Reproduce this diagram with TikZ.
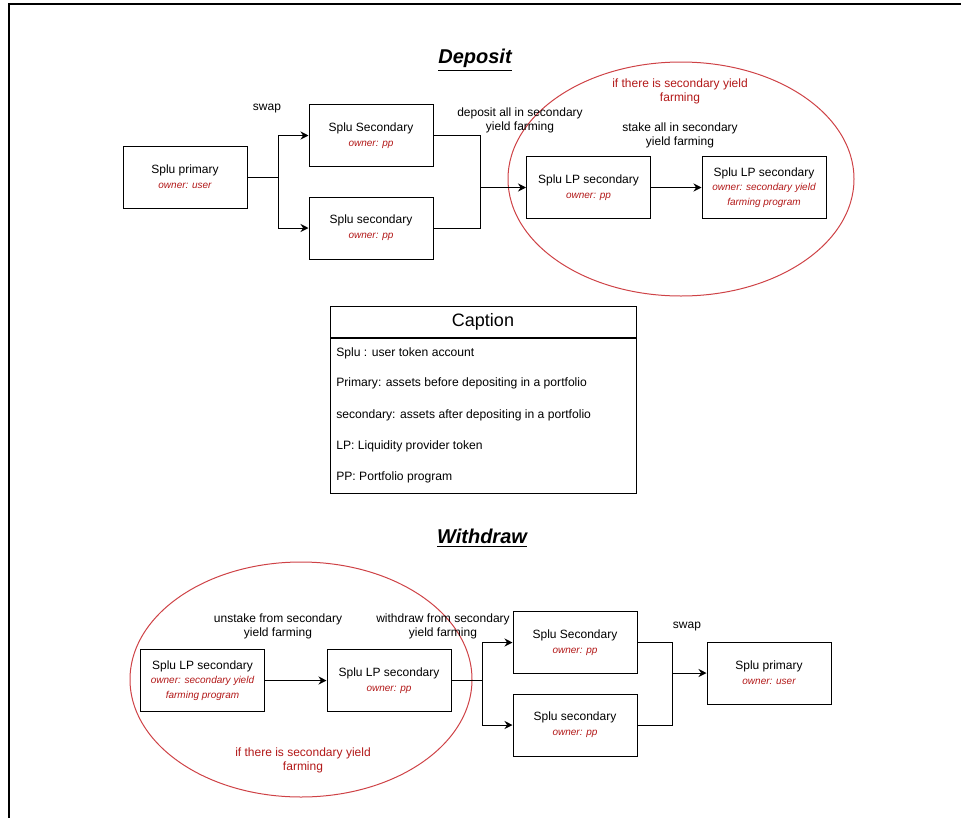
\documentclass[tikz,border=0pt]{standalone}
\usepackage{fontspec}
\setmainfont{Liberation Sans}
\usetikzlibrary{arrows.meta,shapes}
\tikzset{>={Stealth[width=6pt,length=6pt]}}
\definecolor{ownred}{RGB}{178,24,24}
\definecolor{ringred}{RGB}{206,66,70}
\tikzset{
  acct/.style={draw, line width=0.75pt, minimum width=93pt, minimum height=46.5pt,
    align=center, inner sep=2pt, font=\fontsize{9}{11}\selectfont},
  ring/.style={draw=ringred, ellipse, line width=0.75pt, inner sep=0pt},
  note/.style={align=center, font=\fontsize{9}{10.5}\selectfont},
  rednote/.style={note, text=ownred},
  heading/.style={font=\fontsize{15}{18}\selectfont\bfseries\itshape},
  capbox/.style={draw, line width=0.75pt, minimum width=229.5pt, inner sep=0pt},
  item/.style={anchor=west, font=\fontsize{9.1}{10}\selectfont, inner sep=0pt},
  link/.style={line width=0.7pt},
}
\newcommand\owner[1]{{\fontsize{7.5}{9}\selectfont\itshape\color{ownred}#1}}

\begin{document}
\begin{tikzpicture}[x=0.75pt, y=-0.75pt]

  \useasboundingbox (0,0) rectangle (961,818);
  \draw[line width=1.1pt] (9,818) -- (9,4) -- (961,4);

  % deposit
  \node[heading] (depTitle) at (475,60) {\underline{Deposit}};

  \node[ring, minimum width=259.5pt, minimum height=175.5pt] (farmDep) at (681,179) {};

  \node[acct] (primDep) at (185,177) {Splu primary\\\owner{owner: user}};
  \node[acct] (secUDep) at (371,135.5) {Splu Secondary\\\owner{owner: pp}};
  \node[acct] (secLDep) at (371,228) {Splu secondary\\\owner{owner: pp}};
  \node[acct] (lpDep) at (588.5,187.5) {Splu LP secondary\\\owner{owner: pp}};
  \node[acct] (lpFarmDep) at (764,187.5)
    {Splu LP secondary\\\owner{owner: secondary yield}\\\owner{farming program}};

  \node[note] (swapDep) at (267,109) {swap};
  \node[note] (depositLbl) at (520,120) {deposit all in secondary\\yield farming};
  \node[note] (stakeLbl) at (680,135) {stake all in secondary\\yield farming};
  \node[rednote] (ifDep) at (680,91) {if there is secondary yield\\farming};

  \draw[link,->] (primDep.east) -- ++(31,0) coordinate (splitDep) |- (secUDep.west);
  \draw[link,->] (splitDep) |- (secLDep.west);
  \draw[link] (secUDep.east) -- ++(47,0) coordinate (joinDep) |- (secLDep.east);
  \draw[link,->] (joinDep |- lpDep.west) -- (lpDep.west);
  \draw[link,->] (lpDep.east) -- (lpFarmDep.west);

  % caption
  \node[capbox, minimum height=23.25pt, font=\fontsize{13.5}{16}\selectfont]
    (capHead) at (483,321.5) {Caption};
  \node[capbox, minimum height=116.25pt, anchor=north] (capBody) at (capHead.south) {};
  \node[item] (capSplu) at (336,353) {Splu : user token account};
  \node[item] (capPrim) at (336,383) {Primary: assets before depositing in a portfolio};
  \node[item] (capSec) at (336,415) {secondary: assets after depositing in a portfolio};
  \node[item] (capLP) at (336,446) {LP: Liquidity provider token};
  \node[item] (capPP) at (336,477) {PP: Portfolio program};

  % withdraw
  \node[heading] (wdTitle) at (482,538) {\underline{Withdraw}};

  \node[ring, minimum width=256.5pt, minimum height=176.25pt] (farmWd) at (301,679.5) {};

  \node[acct] (lpFarmWd) at (202.5,680.5)
    {Splu LP secondary\\\owner{owner: secondary yield}\\\owner{farming program}};
  \node[acct] (lpWd) at (389,680.5) {Splu LP secondary\\\owner{owner: pp}};
  \node[acct] (secUWd) at (575,642.5) {Splu Secondary\\\owner{owner: pp}};
  \node[acct] (secLWd) at (575,725) {Splu secondary\\\owner{owner: pp}};
  \node[acct] (primWd) at (769,673) {Splu primary\\\owner{owner: user}};

  \node[note] (unstakeLbl) at (278,626) {unstake from secondary\\yield farming};
  \node[note] (withdrawLbl) at (443,626) {withdraw from secondary\\yield farming};
  \node[note] (swapWd) at (687,627) {swap};
  \node[rednote] (ifWd) at (303,760) {if there is secondary yield\\farming};

  \draw[link,->] (lpFarmWd.east) -- (lpWd.west);
  \draw[link,->] (lpWd.east) -- ++(31,0) coordinate (splitWd) |- (secUWd.west);
  \draw[link,->] (splitWd) |- (secLWd.west);
  \draw[link] (secUWd.east) -- ++(35,0) coordinate (joinWd) |- (secLWd.east);
  \draw[link,->] (joinWd |- primWd.west) -- (primWd.west);

\end{tikzpicture}
\end{document}
